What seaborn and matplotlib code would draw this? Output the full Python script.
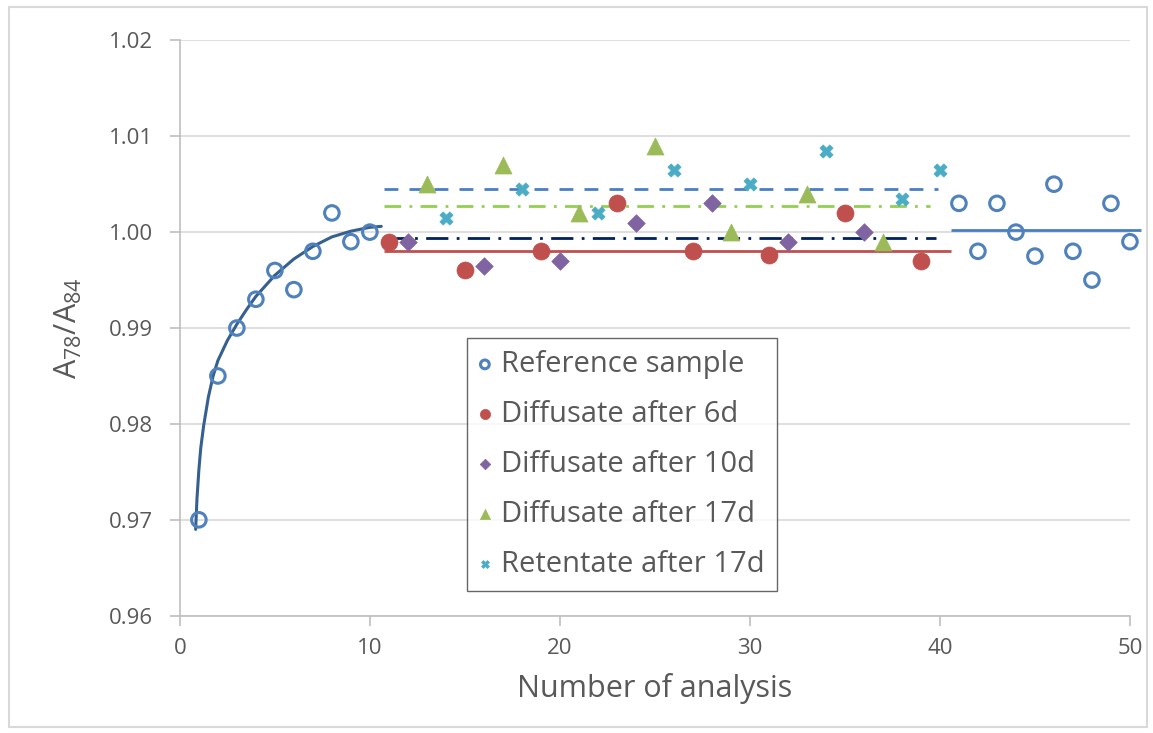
import numpy as np
import pandas as pd
import matplotlib
matplotlib.use('Agg')
import matplotlib.pyplot as plt
import seaborn as sns
from matplotlib.patches import Rectangle
from matplotlib.ticker import FormatStrFormatter

sns.set_theme(style="white")
plt.rcParams['font.family'] = ['Open Sans', 'DejaVu Sans']

# reference sample (analysis 1-10 and 41-50)
ref_x = [1, 2, 3, 4, 5, 6, 7, 8, 9, 10, 41, 42, 43, 44, 45, 46, 47, 48, 49, 50]
ref_y = [0.970, 0.985, 0.990, 0.993, 0.996, 0.994, 0.998, 1.002, 0.999, 1.000,
         1.003, 0.998, 1.003, 1.000, 0.9975, 1.005, 0.998, 0.995, 1.003, 0.999]

d6_x = [11, 15, 19, 23, 27, 31, 35, 39]
d6_y = [0.999, 0.996, 0.998, 1.003, 0.998, 0.9976, 1.002, 0.997]

d10_x = [12, 16, 20, 24, 28, 32, 36]
d10_y = [0.999, 0.9965, 0.997, 1.001, 1.003, 0.999, 1.000]

d17_x = [13, 17, 21, 25, 29, 33, 37]
d17_y = [1.005, 1.007, 1.002, 1.009, 1.000, 1.004, 0.999]

r17_x = [14, 18, 22, 26, 30, 34, 38, 40]
r17_y = [1.0015, 1.0045, 1.002, 1.0065, 1.005, 1.0085, 1.0035, 1.0065]

# start-up trend curve of the reference sample
curve_x = [0.83, 0.9, 1.0, 1.1, 1.25, 1.5, 1.75, 2.0, 2.5, 3.0, 3.5, 4.0,
           5.0, 6.0, 7.0, 8.0, 9.0, 10.0, 10.6]
curve_y = [0.9690, 0.9722, 0.9752, 0.9775, 0.9798, 0.9828, 0.9850, 0.9866,
           0.9887, 0.9904, 0.9919, 0.9933, 0.9955, 0.9972, 0.9985, 0.9995,
           1.0001, 1.0005, 1.0006]

# mean levels
mean_levels = [1.0045, 1.0027, 0.9994, 0.998, 1.0002]
mean_start = [10.75, 10.75, 10.75, 10.75, 40.6]
mean_end = [39.9, 39.5, 39.8, 40.6, 50.6]
mean_colors = ['#4A7EC4', '#92D050', '#002060', '#C0504D', '#4A7EC4']
mean_styles = [(0, (5, 4)), (0, (6, 3, 1, 3)), (0, (8, 3, 1, 3)), '-', '-']

fig = plt.figure(figsize=(11.53, 7.33), dpi=100)
ax = fig.add_axes([0.156, 0.160, 0.824, 0.785])

for lev, x0, x1, c, ls in zip(mean_levels, mean_start, mean_end, mean_colors, mean_styles):
    ax.hlines(lev, x0, x1, colors=c, linestyles=ls, linewidth=2, zorder=2, clip_on=False)

sns.lineplot(x=curve_x, y=curve_y, sort=False, color='#35608F', linewidth=2.2, ax=ax, zorder=2)

sns.scatterplot(x=ref_x, y=ref_y, ax=ax, marker='o', s=110, facecolors='none',
                edgecolor='#4F81BD', linewidth=2.2, label='Reference sample', zorder=3,
                clip_on=False)
sns.scatterplot(x=d6_x, y=d6_y, ax=ax, marker='o', s=150, color='#C0504D',
                edgecolor='#C0504D', linewidth=0.5, label='Diffusate after 6d', zorder=3)
sns.scatterplot(x=d10_x, y=d10_y, ax=ax, marker='D', s=80, color='#8064A2',
                edgecolor='#8064A2', linewidth=0.5, label='Diffusate after 10d', zorder=3)
sns.scatterplot(x=d17_x, y=d17_y, ax=ax, marker='^', s=150, color='#9BBB59',
                edgecolor='#9BBB59', linewidth=0.5, label='Diffusate after 17d', zorder=3)
sns.scatterplot(x=r17_x, y=r17_y, ax=ax, marker='X', s=90, color='#4BACC6',
                edgecolor='#4BACC6', linewidth=0.5, label='Retentate after 17d', zorder=3)

ax.set_xlim(0, 50)
ax.set_ylim(0.96, 1.02)
ax.set_xticks(np.arange(0, 51, 10))
ax.set_yticks(np.arange(0.96, 1.0201, 0.01))
ax.yaxis.set_major_formatter(FormatStrFormatter('%.2f'))
ax.grid(axis='y', color='#D9D9D9', linewidth=1.2)
ax.set_axisbelow(True)
for s in ['top', 'right']:
    ax.spines[s].set_visible(False)
for s in ['left', 'bottom']:
    ax.spines[s].set_color('#BFBFBF')
    ax.spines[s].set_linewidth(1.2)
ax.tick_params(axis='both', colors='#BFBFBF', labelcolor='#595959', labelsize=16,
               direction='out', length=7, width=1.2, left=True, bottom=True)
ax.tick_params(axis='x', pad=9)
ax.tick_params(axis='y', pad=12)

ax.set_xlabel('Number of analysis', fontsize=22, color='#595959', labelpad=10)
ax.set_ylabel(r'A$_{\mathregular{78}}$/A$_{\mathregular{84}}$', fontsize=22,
              color='#595959', labelpad=18)

handles, labels = ax.get_legend_handles_labels()
leg = ax.legend(handles, labels, loc='upper left', bbox_to_anchor=(0.302, 0.483),
                fontsize=21, markerscale=0.6, frameon=True, fancybox=False,
                handlelength=0.4, handletextpad=0.35, labelspacing=0.72,
                borderpad=0.42, borderaxespad=0, labelcolor='#595959')
leg.get_frame().set_edgecolor('#404040')
leg.get_frame().set_linewidth(1.0)

# light border around the whole chart
fig.patches.append(Rectangle((0.008, 0.008), 0.987, 0.983, transform=fig.transFigure,
                             fill=False, edgecolor='#D9D9D9', linewidth=1.5))

fig.savefig('out.png', dpi=100)
